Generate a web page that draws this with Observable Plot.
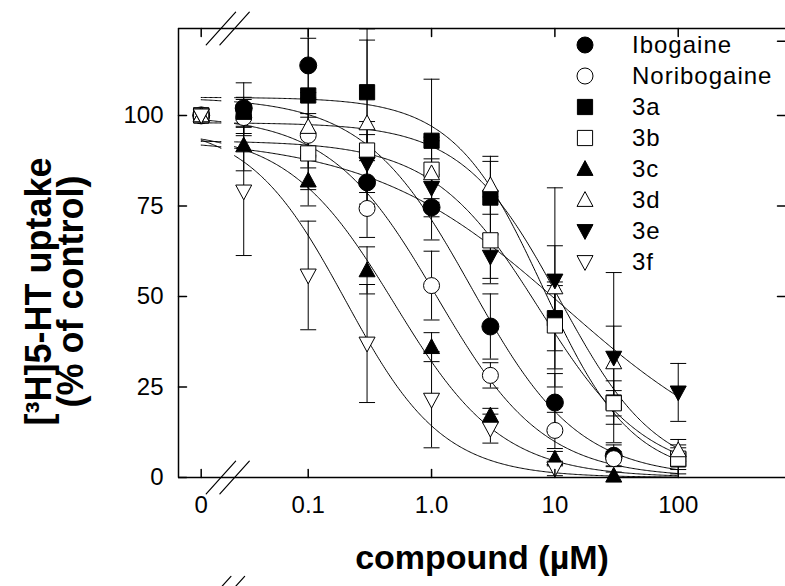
<!DOCTYPE html>
<html><head><meta charset="utf-8">
<script src="https://cdn.jsdelivr.net/npm/d3@7"></script>
<script src="https://cdn.jsdelivr.net/npm/@observablehq/plot@0.6"></script>
<style>
body{margin:0;background:#fff;}
#wrap{position:relative;width:785px;height:586px;font-family:"Liberation Sans",Arial,sans-serif;}
#legend{position:absolute;left:573px;top:29px;}
.row{display:flex;align-items:center;height:31px;}
.row svg{width:24px;height:24px;margin-right:35px;flex:none}
.row span{font-size:24px;letter-spacing:1px;color:#000;}
</style></head><body><div id="wrap"><div id="legend"></div></div>
<script>
// ---- data ----
const compounds = ["Ibogaine","Noribogaine","3a","3b","3c","3d","3e","3f"];
const concentrations = [0, 0.03, 0.1, 0.3, 1, 3, 10, 30, 100]; // µM (0 = control)
const ibogaineMean    = [100, 102, 113.8, 81.5, 74.6, 41.7, 20.7, 6, null];
const ibogaineSem     = [0, 7, 7.5, 6, 9, 9, 8, 3, null];
const noribogaineMean = [100, 99.4, 94.5, 74.3, 53, 28.2, 13, 5.2, null];
const noribogaineSem  = [0, 5, 6, 8, 9.5, 3.5, 5, 2, null];
const c3aMean = [100, 101, 105.5, 106.4, 93, 77.3, 44, 20.7, 5];
const c3aSem  = [0, 4, 20, 17.5, 17, 10, 9, 6, 4];
const c3bMean = [100, null, 89.5, 90.3, 85, 65.5, 42, 20.5, 5.2];
const c3bSem  = [0, null, 10, 8, 8, 12, 12, 3.5, 3];
const c3cMean = [100, 91.7, 82, 57.2, 36, 17.1, 5.2, 0.5, null];
const c3cSem  = [0, 7, 7, 6.5, 4, 2, 2, 1, null];
const c3dMean = [100, null, 96.8, 97.8, 84, 80.7, 52.5, 31.8, 7.5];
const c3dSem  = [0, null, 8, 23, 10, 8, 27.5, 10, 3];
const c3eMean = [100, null, null, 86.7, 80, 61, 54.4, 33.1, 23.5];
const c3eSem  = [0, null, null, 8, 8, 6, 9.6, 23.5, 8];
const c3fMean = [100, 79, 55.8, 37, 21.5, 13.5, 2.5, null, null];
const c3fSem  = [0, 17.7, 15, 16.3, 13.3, 4, 2, null, null];
// fitted sigmoid parameters (estimated from the drawn curves)
const fitTop  = [105, 100, 105, 93, 96, 98, 94, 98];
const fitIC50 = [2.1, 1.1, 8, 7.5, 0.5, 11, 12, 0.2];
const fitHill = [1.0, 1.0, 1.2, 1.0, 1.0, 1.1, 0.55, 1.1];
// axis ticks / labels
const xTickValues = [0, 0.1, 1, 10, 100];
const xTickLabels = ["0", "0.1", "1.0", "10", "100"];
const yTickValues = [0, 25, 50, 75, 100];
const yRightTicks = [50, 75, 100, 120.5];

const means = [ibogaineMean, noribogaineMean, c3aMean, c3bMean, c3cMean, c3dMean, c3eMean, c3fMean];
const sems  = [ibogaineSem, noribogaineSem, c3aSem, c3bSem, c3cSem, c3dSem, c3eSem, c3fSem];

// broken log axis: control (0) drawn left of the break
const zeroPos = 0.01356;
const breakMarks = [0.0196, 0.0253];
const xDomain = [0.008877, 741];
const yDomain = [0, 124];
const px = c => c === 0 ? zeroPos : c;

// symbols
function sym(f){ return {draw(ctx, size){ f(ctx, Math.sqrt(size/Math.PI)); }}; }
const circle  = sym((c,r)=>{ c.moveTo(r,0); c.arc(0,0,r,0,2*Math.PI); c.closePath(); });
const square  = sym((c,r)=>{ const h=r*0.95; c.moveTo(-h,-h); c.lineTo(h,-h); c.lineTo(h,h); c.lineTo(-h,h); c.closePath(); });
const triUp   = sym((c,r)=>{ c.moveTo(0,-r*1.05); c.lineTo(r,r*0.8); c.lineTo(-r,r*0.8); c.closePath(); });
const triDown = sym((c,r)=>{ c.moveTo(0,r*1.05); c.lineTo(r,-r*0.8); c.lineTo(-r,-r*0.8); c.closePath(); });
const capSym  = sym((c,r)=>{ c.moveTo(-r,0); c.lineTo(r,0); });
const symbols = [circle, circle, square, square, triUp, triUp, triDown, triDown];
const filled  = [true, false, true, false, true, false, true, false];
const lineShape = {draw(ctx, l){ ctx.moveTo(0,0); ctx.lineTo(0,-l); }};

const points = compounds.flatMap((name,i) => concentrations.map((c,j) => ({
  name, i, conc: c, x: px(c), y: means[i][j], sem: sems[i][j]
}))).filter(d => d.y != null);
const bars = points.filter(d => d.sem > 0);
const caps = bars.flatMap(d => [{x:d.x, y:d.y+d.sem}, {x:d.x, y:d.y-d.sem}]);

// fitted curves, drawn on both sides of the axis break
const logGrid = d3.range(Math.log10(zeroPos), 2.0001, 0.01).map(v => 10 ** v);
const curveX = [...logGrid.filter(c => c < breakMarks[0]), breakMarks[0], breakMarks[1], ...logGrid.filter(c => c > breakMarks[1])];
const curves = compounds.flatMap((name,i) => curveX.map(c => ({
  name, seg: c <= breakMarks[0] ? 0 : 1, c,
  v: fitTop[i] / (1 + Math.pow(c / fitIC50[i], fitHill[i]))
})));

const font = "Liberation Sans, Arial, sans-serif";
const chart = Plot.plot({
  width: 785, height: 586,
  marginLeft: 178, marginRight: 0, marginTop: 28, marginBottom: 109,
  x: {type: "log", domain: xDomain, axis: null},
  y: {domain: yDomain, axis: null},
  style: {fontFamily: font, background: "white", color: "black", overflow: "visible"},
  marks: [
    Plot.line(curves, {x: "c", y: "v", z: d => d.name + d.seg, stroke: "black", strokeWidth: 1}),
    Plot.ruleX(bars, {x: "x", y1: d => d.y - d.sem, y2: d => d.y + d.sem, stroke: "black", strokeWidth: 1, clip: true}),
    Plot.dot(caps, {x: "x", y: "y", symbol: capSym, r: 8, stroke: "black", strokeWidth: 1, fill: "none", clip: true}),
    ...compounds.map((name, i) => Plot.dot(points.filter(d => d.i === i), {
      x: "x", y: "y", symbol: symbols[i], r: i === 0 ? 8.5 : 8,
      fill: filled[i] ? "black" : "white", stroke: "black", strokeWidth: 1
    })),
    // frame (left, top, bottom)
    Plot.ruleY([yDomain[0]], {stroke: "black", strokeWidth: 1.5}),
    Plot.ruleY([yDomain[1]], {stroke: "black", strokeWidth: 1.5}),
    Plot.ruleX([xDomain[0]], {stroke: "black", strokeWidth: 1.5}),
    // inward ticks
    Plot.vector(xTickValues, {x: px, frameAnchor: "bottom", rotate: 0, length: 8, anchor: "start", shape: lineShape, stroke: "black"}),
    Plot.vector(xTickValues, {x: px, frameAnchor: "top", rotate: 180, length: 8, anchor: "start", shape: lineShape, stroke: "black"}),
    Plot.vector(yTickValues, {y: d => d, frameAnchor: "left", rotate: 90, length: 8, anchor: "start", shape: lineShape, stroke: "black"}),
    Plot.vector(yRightTicks, {y: d => d, frameAnchor: "right", rotate: -90, length: 8, anchor: "start", shape: lineShape, stroke: "black"}),
    // axis break marks
    Plot.vector(breakMarks, {x: d => d, frameAnchor: "bottom", rotate: 42, length: 44, anchor: "middle", shape: lineShape, stroke: "black", strokeWidth: 1.2}),
    Plot.vector(breakMarks, {x: d => d, frameAnchor: "top", rotate: 42, length: 44, anchor: "middle", shape: lineShape, stroke: "black", strokeWidth: 1.2}),
    Plot.vector(breakMarks, {x: d => d, frameAnchor: "bottom", dy: 110, rotate: 42, length: 30, anchor: "middle", shape: lineShape, stroke: "black", strokeWidth: 1.2}),
    // tick labels
    Plot.text(xTickValues, {x: px, frameAnchor: "bottom", dy: 28, text: (d, k) => xTickLabels[k], fontSize: 24, lineAnchor: "middle", fill: "black"}),
    Plot.text(yTickValues, {y: d => d, frameAnchor: "left", dx: -15, text: d => String(d), textAnchor: "end", fontSize: 24, fill: "black"}),
    // axis titles
    Plot.text(["[³H]5-HT uptake\n(% of control)"], {frameAnchor: "left", dx: -122, dy: 38.5, rotate: -90, fontSize: 36, fontWeight: "bold", lineHeight: 0.9, textAnchor: "middle", lineAnchor: "middle", fill: "black"}),
    Plot.text(["compound (µM)"], {frameAnchor: "bottom", dy: 91, dx: 0, fontSize: 34, fontWeight: "bold", lineAnchor: "bottom", fill: "black"})
  ]
});
document.getElementById("wrap").prepend(chart);

// legend (inside the plot area, top right)
const legend = document.getElementById("legend");
compounds.forEach((name, i) => {
  const row = document.createElement("div");
  row.className = "row";
  const s = d3.create("svg").attr("viewBox", "-12 -12 24 24");
  s.append("path").attr("d", d3.symbol(symbols[i], Math.PI * 64)())
    .attr("fill", filled[i] ? "black" : "white").attr("stroke", "black").attr("stroke-width", 1);
  row.appendChild(s.node());
  const t = document.createElement("span");
  t.textContent = name;
  row.appendChild(t);
  legend.appendChild(row);
});
</script></body></html>
